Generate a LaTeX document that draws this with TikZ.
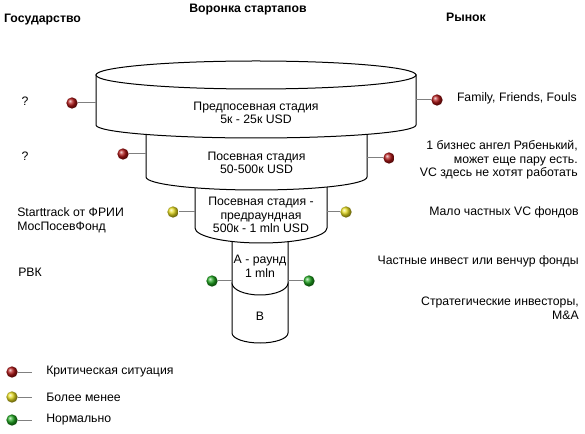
\documentclass[tikz,border=0pt]{standalone}
\usepackage{fontspec}
\setmainfont{Liberation Sans}
\definecolor{pinred}{RGB}{175,20,20}
\definecolor{pinyellow}{RGB}{230,220,30}
\definecolor{pingreen}{RGB}{30,165,30}
\begin{document}
\begin{tikzpicture}[x=0.75pt,y=0.75pt,font=\fontsize{9.2}{10.2}\selectfont,
 funnel/.style={draw=black,line width=0.75pt,fill=white},
 bulb/.style={circle,inner sep=0pt,minimum size=8.5pt,shading=ball,ball color=#1},
 stem/.style={draw=gray,line width=0.75pt},
 txt/.style={inner sep=0pt,align=center},
 head/.style={txt,font=\fontsize{9.2}{10.2}\selectfont\bfseries}]
\useasboundingbox (0,0) rectangle (585,-434);
% funnel, drawn from the bottom up
\draw[funnel] (232,-283) -- (232,-333) arc[start angle=180,end angle=360,x radius=28,y radius=10] -- (288,-283) -- cycle;
\draw[funnel] (232,-228) -- (232,-283) arc[start angle=180,end angle=360,x radius=28,y radius=12] -- (288,-228) -- cycle;
\draw[funnel] (195,-177) -- (195,-228) arc[start angle=180,end angle=360,x radius=66,y radius=15] -- (327,-177) -- cycle;
\draw[funnel] (146,-125) -- (146,-177) arc[start angle=180,end angle=360,x radius=110.5,y radius=13] -- (367,-125) -- cycle;
\draw[funnel] (96,-75) -- (96,-125) arc[start angle=180,end angle=360,x radius=160,y radius=13] -- (416,-75) -- cycle;
\draw[funnel] (256,-75) ellipse[x radius=160,y radius=14];
% stages
\node[txt] (preseed) at (256,-113) {Предпосевная стадия\\5к - 25к USD};
\node[txt] (seed) at (256.5,-163) {Посевная стадия\\50-500к USD};
\node[txt] (preround) at (261,-215) {Посевная стадия -\\предраундная\\500к - 1 mln USD};
\node[txt] (rounda) at (260,-266) {А - раунд\\1 mln};
\node[txt] (roundb) at (260,-316) {B};
% pins on the sides
\foreach \n/\xa/\xp/\y/\c in {pl1/96/72/103/pinred, pr1/416/437/100/pinred,
  pl2/146/123/154/pinred, pr2/367/389/158/pinred,
  pl3/195/173/212/pinyellow, pr3/327/346/212/pinyellow,
  pl4/232/212/281/pingreen, pr4/288/309/281/pingreen}{
 \coordinate (\n side) at (\xa,-\y);
 \node[bulb=\c] (\n) at (\xp,-\y) {};
 \draw[stem] (\n side) -- (\n);
}
% headings
\node[head] (state) at (42.5,-20) {Государство};
\node[head] (title) at (248,-10) {Воронка стартапов};
\node[head] (market) at (466,-17) {Рынок};
% state side
\node[txt] (q1) at (25,-101) {?};
\node[txt] (q2) at (25,-156) {?};
\node[txt,anchor=west,align=left] (frii) at (17,-220.5) {Starttrack от ФРИИ\\МосПосевФонд};
\node[txt,anchor=west] (rvk) at (18,-272) {РВК};
% market side
\node[txt,anchor=east,align=right] (fff) at (577,-98) {Family, Friends, Fouls};
\node[txt,anchor=east,align=right] (angel) at (578,-160) {1 бизнес ангел Рябенький,\\может еще пару есть.\\VC здесь не хотят работать};
\node[txt,anchor=east,align=right] (vcfew) at (579,-212) {Мало частных VC фондов};
\node[txt,anchor=east,align=right] (priv) at (579,-261) {Частные инвест или венчур фонды};
\node[txt,anchor=east,align=right] (strat) at (579,-308) {Стратегические инвесторы,\\M\&A};
% legend
\foreach \c/\y/\t [count=\i] in {pinred/372/Критическая ситуация, pinyellow/397/Более менее, pingreen/420/Нормально}{
 \coordinate (leg\i) at (32,-\y);
 \node[bulb=\c] (legpin\i) at (12,-\y) {};
 \draw[stem] (legpin\i) -- (leg\i);
 \node[txt,anchor=west] (legtext\i) at (46,-\y) {\t};
}
\end{tikzpicture}
\end{document}
